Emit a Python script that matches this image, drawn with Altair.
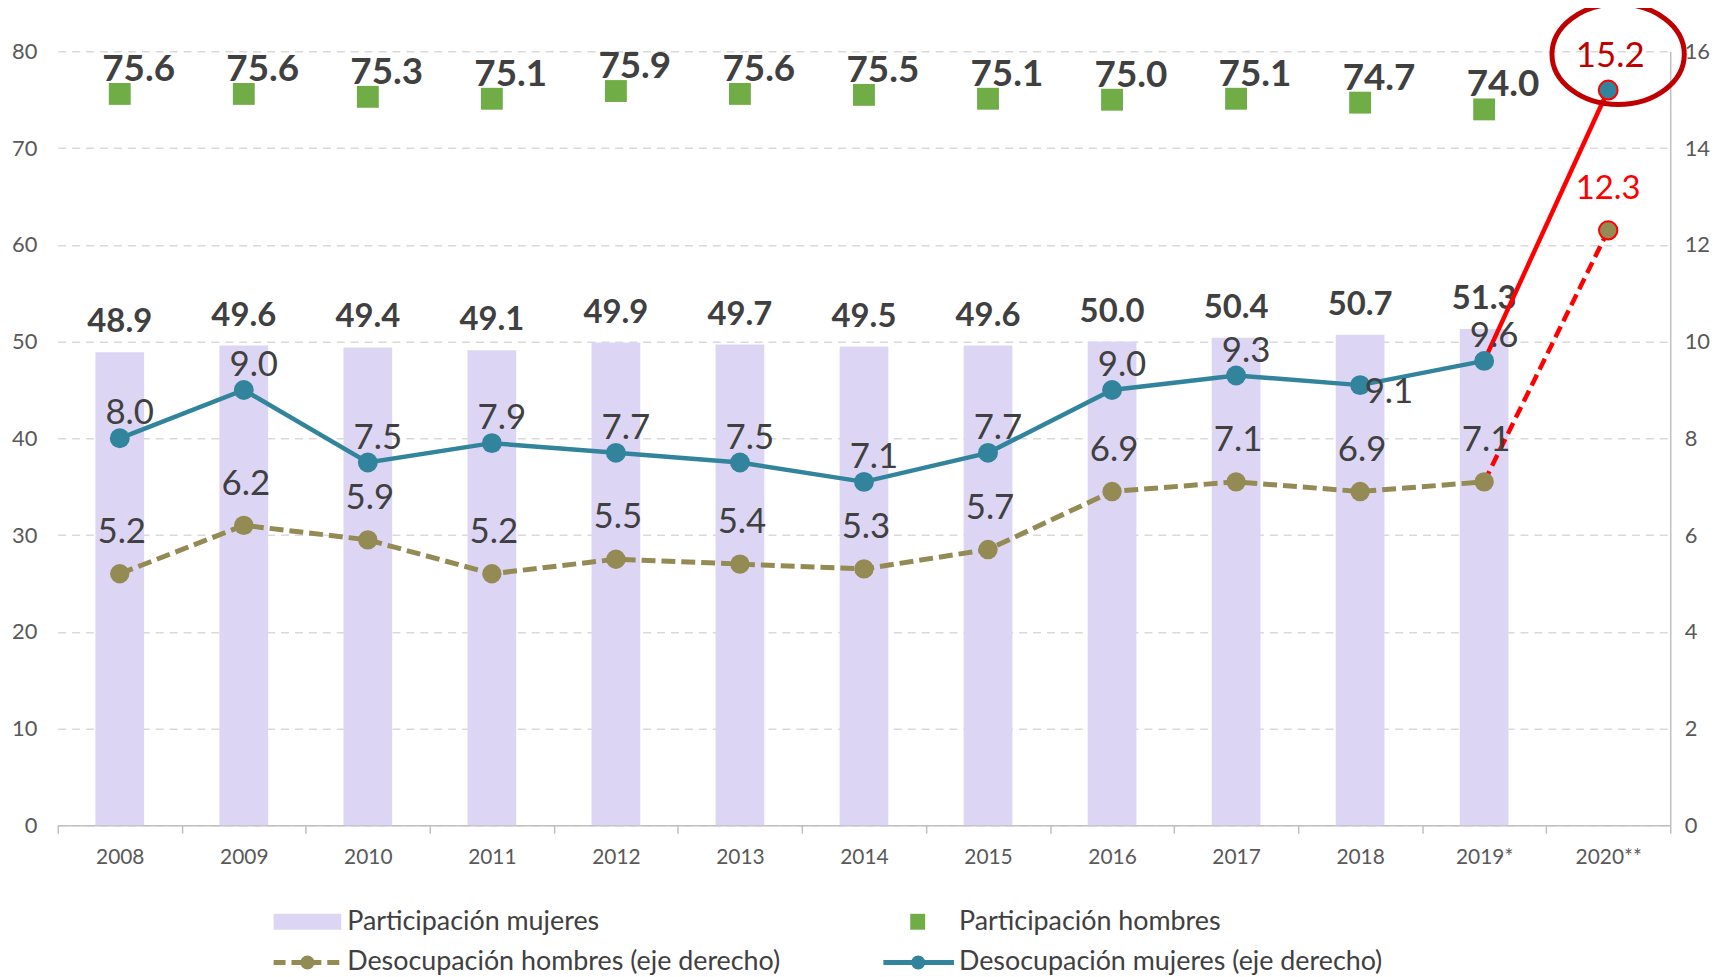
import altair as alt
import pandas as pd

years = ["2008", "2009", "2010", "2011", "2012", "2013", "2014", "2015",
         "2016", "2017", "2018", "2019*", "2020**"]
part_mujeres = [48.9, 49.6, 49.4, 49.1, 49.9, 49.7, 49.5, 49.6, 50.0, 50.4, 50.7, 51.3, None]
part_hombres = [75.6, 75.6, 75.3, 75.1, 75.9, 75.6, 75.5, 75.1, 75.0, 75.1, 74.7, 74.0, None]
desoc_mujeres = [8.0, 9.0, 7.5, 7.9, 7.7, 7.5, 7.1, 7.7, 9.0, 9.3, 9.1, 9.6, 15.2]
desoc_hombres = [5.2, 6.2, 5.9, 5.2, 5.5, 5.4, 5.3, 5.7, 6.9, 7.1, 6.9, 7.1, 12.3]
legend_labels = ["Participación mujeres", "Participación hombres",
                 "Desocupación hombres (eje derecho)", "Desocupación mujeres (eje derecho)"]
left_ticks = [0, 10, 20, 30, 40, 50, 60, 70, 80]
right_ticks = [0, 2, 4, 6, 8, 10, 12, 14, 16]

FONT = "Lato"
C_BAR = "#DCD6F4"
C_GREEN = "#70AD47"
C_TEAL = "#31849B"
C_OLIVE = "#948A54"
C_RED = "#FF0000"
C_DRED = "#C00000"
C_TXT = "#404040"
C_AX = "#595959"

df = pd.DataFrame({"year": years, "pm": part_mujeres, "ph": part_hombres,
                   "dm": desoc_mujeres, "dh": desoc_hombres})
leg = pd.DataFrame({"label": legend_labels})

X = alt.X("year:N", scale=alt.Scale(domain=years, paddingInner=0, paddingOuter=0),
          axis=alt.Axis(title=None, labelAngle=0, tickBand="extent", labelFontSize=21,
                        labelColor=C_AX, labelFont=FONT, tickSize=8, tickColor="#BFBFBF",
                        domainColor="#BFBFBF", domainWidth=1.5, tickWidth=1.5,
                        labelPadding=13, grid=False))


def YL(field):
    return alt.Y(f"{field}:Q", scale=alt.Scale(domain=[0, 80], nice=False),
                 axis=alt.Axis(values=left_ticks, title=None, grid=True, gridDash=[8, 6],
                               gridColor="#D9D9D9", gridWidth=1.5, domain=False, ticks=False,
                               labelFontSize=22, labelColor=C_AX, labelFont=FONT,
                               labelPadding=21))


def YR(field):
    return alt.Y(f"{field}:Q", scale=alt.Scale(domain=[0, 16], nice=False),
                 axis=alt.Axis(orient="right", values=right_ticks, title=None, grid=False,
                               domain=True, domainColor="#BFBFBF", domainWidth=1.5,
                               ticks=False, labelFontSize=22, labelColor=C_AX,
                               labelFont=FONT, labelPadding=14))


base = alt.Chart(df)
not2020 = alt.datum.year != "2020**"
last2 = alt.FieldOneOfPredicate(field="year", oneOf=["2019*", "2020**"])
only2020 = alt.datum.year == "2020**"

# ---- left axis group ----
bars = base.mark_bar(size=49, color=C_BAR).encode(x=X, y=YL("pm"))
bar_lbl = base.mark_text(font=FONT, fontSize=33, fontWeight="bold", color=C_TXT,
                         dy=-20, baseline="alphabetic").encode(
    x=X, y=YL("pm"), text=alt.Text("pm:Q", format=".1f"))
squares = base.mark_square(size=484, color=C_GREEN, opacity=1).encode(x=X, y=YL("ph"))
sq_lbl = base.mark_text(font=FONT, fontSize=37, fontWeight="bold", color=C_TXT,
                        dx=19, dy=-13, baseline="alphabetic").encode(
    x=X, y=YL("ph"), text=alt.Text("ph:Q", format=".1f"))

ROW1, ROW2 = 875, 916
lg = alt.Chart(leg)
lg_rect = lg.transform_filter(alt.datum.label == legend_labels[0]).mark_rect(color=C_BAR).encode(
    x=alt.value(217), x2=alt.value(285), y=alt.value(ROW1 - 8), y2=alt.value(ROW1 + 8))
lg_sq = lg.transform_filter(alt.datum.label == legend_labels[1]).mark_rect(color=C_GREEN).encode(
    x=alt.value(857), x2=alt.value(872), y=alt.value(ROW1 - 8), y2=alt.value(ROW1 + 8))
lg_line_o = lg.transform_filter(alt.datum.label == legend_labels[2]).mark_rule(
    color=C_OLIVE, strokeWidth=5, strokeDash=[12, 6]).encode(
    x=alt.value(217), x2=alt.value(285), y=alt.value(ROW2))
lg_pt_o = lg.transform_filter(alt.datum.label == legend_labels[2]).mark_circle(
    color=C_OLIVE, size=200, opacity=1).encode(x=alt.value(251), y=alt.value(ROW2))
lg_line_t = lg.transform_filter(alt.datum.label == legend_labels[3]).mark_rule(
    color=C_TEAL, strokeWidth=5).encode(
    x=alt.value(830), x2=alt.value(901), y=alt.value(ROW2))
lg_pt_t = lg.transform_filter(alt.datum.label == legend_labels[3]).mark_circle(
    color=C_TEAL, size=200, opacity=1).encode(x=alt.value(865), y=alt.value(ROW2))


def lg_text(i, xpos, ypos):
    return lg.transform_filter(alt.datum.label == legend_labels[i]).mark_text(
        font=FONT, fontSize=27, color=C_TXT, align="left", baseline="middle").encode(
        x=alt.value(xpos), y=alt.value(ypos), text="label:N")


left = alt.layer(bars, squares, bar_lbl, sq_lbl, lg_rect, lg_sq, lg_line_o, lg_pt_o,
                 lg_line_t, lg_pt_t,
                 lg_text(0, 291, ROW1), lg_text(1, 906, ROW1),
                 lg_text(2, 291, ROW2), lg_text(3, 906, ROW2))

# ---- right axis group ----
line_h = base.transform_filter(not2020).mark_line(color=C_OLIVE, strokeWidth=5,
                                                  strokeDash=[14, 6]).encode(x=X, y=YR("dh"))
seg_h = base.transform_filter(last2).mark_line(color=C_RED, strokeWidth=4.5,
                                               strokeDash=[12, 6]).encode(x=X, y=YR("dh"))
line_m = base.transform_filter(not2020).mark_line(color=C_TEAL, strokeWidth=4.5).encode(
    x=X, y=YR("dm"))
seg_m = base.transform_filter(last2).mark_line(color=C_RED, strokeWidth=4.5).encode(
    x=X, y=YR("dm"))
pts_h = base.transform_filter(not2020).mark_circle(color=C_OLIVE, size=380, opacity=1).encode(
    x=X, y=YR("dh"))
pts_m = base.transform_filter(not2020).mark_circle(color=C_TEAL, size=400, opacity=1).encode(
    x=X, y=YR("dm"))
pt_h20 = base.transform_filter(only2020).mark_point(filled=True, fill=C_OLIVE, stroke=C_RED,
                                                    strokeWidth=2, size=340, opacity=1,
                                                    shape="circle").encode(x=X, y=YR("dh"))
pt_m20 = base.transform_filter(only2020).mark_point(filled=True, fill=C_TEAL, stroke=C_RED,
                                                    strokeWidth=2, size=360, opacity=1,
                                                    shape="circle").encode(x=X, y=YR("dm"))

lbl_h = base.transform_filter(not2020).mark_text(font=FONT, fontSize=35, color=C_TXT, dx=2,
                                                 dy=-31, baseline="alphabetic").encode(
    x=X, y=YR("dh"), text=alt.Text("dh:Q", format=".1f"))
lbl_m = base.transform_filter((alt.datum.year != "2020**") & (alt.datum.year != "2018")).mark_text(
    font=FONT, fontSize=35, color=C_TXT, dx=10, dy=-14, baseline="alphabetic").encode(
    x=X, y=YR("dm"), text=alt.Text("dm:Q", format=".1f"))
lbl_m18 = base.transform_filter(alt.datum.year == "2018").mark_text(
    font=FONT, fontSize=35, color=C_TXT, dx=29, dy=18, baseline="alphabetic").encode(
    x=X, y=YR("dm"), text=alt.Text("dm:Q", format=".1f"))
lbl_h20 = base.transform_filter(only2020).mark_text(font=FONT, fontSize=33, color=C_RED,
                                                    dy=-31, baseline="alphabetic").encode(
    x=X, y=YR("dh"), text=alt.Text("dh:Q", format=".1f"))
lbl_m20 = base.transform_filter(only2020).mark_text(font=FONT, fontSize=35, color=C_DRED,
                                                    dx=2, dy=-23, baseline="alphabetic").encode(
    x=X, y=YR("dm"), text=alt.Text("dm:Q", format=".1f"))
ellipse = base.transform_filter(only2020).mark_point(
    shape="M -1 0 A 1 0.76 0 1 1 1 0 A 1 0.76 0 1 1 -1 0 Z", size=17689, filled=False,
    stroke=C_DRED, strokeWidth=5, opacity=1, xOffset=10, yOffset=-36).encode(x=X, y=YR("dm"))

right = alt.layer(line_h, seg_h, line_m, seg_m, pts_h, pts_m, pt_h20, pt_m20,
                  lbl_h, lbl_m, lbl_m18, lbl_h20, lbl_m20, ellipse)

chart = alt.layer(left, right).resolve_scale(y="independent").properties(
    width=1621, height=778,
    padding={"left": 50, "top": 41, "right": 40, "bottom": 160},
    autosize=alt.AutoSizeParams(type="none"),
    background="white",
).configure_view(stroke=None)

chart.save("out.html", embed_options={"renderer": "svg", "actions": False})
